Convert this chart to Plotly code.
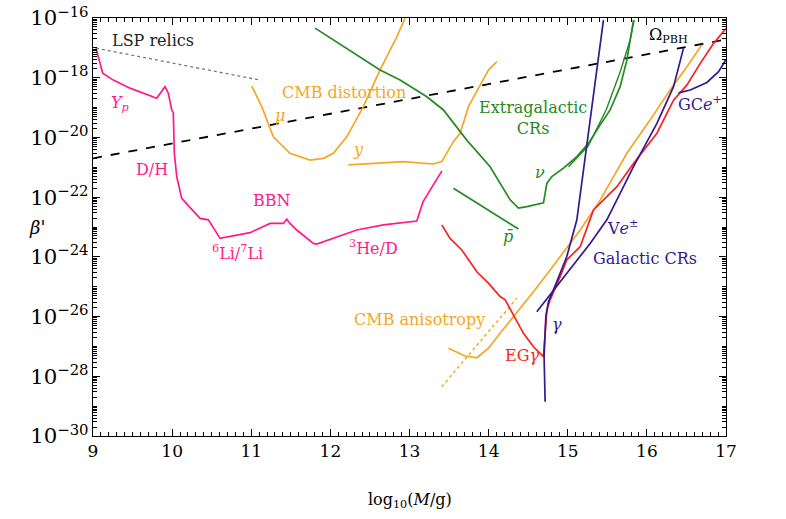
import numpy as np
import plotly.graph_objects as go

# log10(M/g) and log10(beta')
bbn_x = [9.038, 9.123, 9.257, 9.468, 9.805, 9.91, 9.952, 9.995, 10.015, 10.028, 10.058, 10.121,
         10.353, 10.458, 10.606, 10.732, 10.985, 11.238, 11.406, 11.449, 11.49, 11.575, 11.785,
         11.828, 12.334, 12.67, 13.092, 13.172, 13.41]
bbn_y = [-17.01, -17.85, -18.08, -18.35, -18.69, -18.30, -18.52, -19.08, -19.18, -20.53, -21.31, -22.04,
         -22.71, -22.76, -23.38, -23.32, -23.19, -22.88, -22.88, -22.74, -22.88, -23.10, -23.55,
         -23.57, -23.10, -22.93, -22.80, -22.15, -21.12]

lsp_x = [9.038, 11.11]
lsp_y = [-17.01, -18.08]

omega_x = [9.0, 17.0]
omega_y = [-20.70, -16.72]

mu_x = [11.006, 11.133, 11.279, 11.49, 11.743, 11.912, 12.038, 12.207, 12.417, 12.628, 12.839, 12.944]
mu_y = [-18.28, -18.97, -19.98, -20.53, -20.76, -20.70, -20.53, -19.98, -18.97, -17.74, -16.63, -16.01]

ydist_x = [12.228, 12.628, 12.923, 13.302, 13.408, 13.555, 13.64, 13.745, 13.893, 13.998, 14.104]
ydist_y = [-20.92, -20.85, -20.81, -20.89, -20.81, -20.14, -19.86, -18.97, -18.24, -17.74, -17.46]

egcr_x = [11.807, 12.628, 12.881, 13.219, 13.429, 13.724, 14.019, 14.272, 14.377, 14.483, 14.693,
          14.736, 14.799, 14.946, 15.115, 15.262, 15.41, 15.536, 15.662, 15.747, 15.831]
egcr_y = [-16.34, -17.74, -18.08, -18.64, -19.08, -20.09, -20.98, -22.09, -22.37, -22.32, -22.19,
          -21.54, -21.31, -21.03, -20.64, -20.20, -19.58, -19.08, -18.30, -17.41, -16.07]

nu_branch_x = [15.009, 15.258, 15.485, 15.662, 15.788, 15.839]
nu_branch_y = [-20.98, -20.29, -19.08, -17.81, -16.74, -16.07]

pbar_x = [13.555, 14.377]
pbar_y = [-21.70, -23.07]

gamma_x = [14.714, 14.701, 14.723, 14.756, 14.862, 14.988, 15.115, 15.241, 15.451]
gamma_y = [-28.85, -27.34, -26.00, -25.50, -24.83, -23.99, -22.76, -20.20, -16.07]

ve_x = [14.609, 14.904, 15.283, 15.494, 15.831, 16.127, 16.337, 16.463]
ve_y = [-25.84, -24.83, -23.55, -22.76, -20.98, -19.53, -18.30, -17.01]

gce_x = [16.4, 16.548, 16.759, 16.906, 17.0]
gce_y = [-18.51, -18.41, -18.16, -17.80, -17.39]

egg_x = [13.408, 13.513, 13.661, 13.851, 13.997, 14.145, 14.209, 14.314, 14.44, 14.567, 14.693,
         14.736, 14.778, 14.904, 14.988, 15.157, 15.325, 15.621, 15.831, 16.127, 16.337, 16.507,
         16.675, 16.843, 17.0]
egg_y = [-22.93, -23.38, -23.77, -24.50, -24.88, -25.33, -25.44, -25.95, -26.56, -27.01, -27.34,
         -25.78, -25.44, -24.66, -24.10, -23.66, -22.43, -21.65, -20.87, -19.86, -18.75, -18.24,
         -17.52, -16.85, -16.35]

cmba_x = [13.492, 13.703, 13.851, 13.998, 14.145, 14.335, 14.567, 14.778, 14.946, 15.157, 15.41,
          15.747, 16.04, 16.293, 16.506, 16.695]
cmba_y = [-27.06, -27.32, -27.38, -27.06, -26.56, -25.95, -25.17, -24.44, -23.83, -23.10, -22.10,
          -20.53, -19.42, -18.41, -17.63, -16.90]

cmba_dot_x = [13.408, 14.355]
cmba_dot_y = [-28.35, -25.39]

PINK = "#ff1a8c"
ORANGE = "#f5a623"
GREEN = "#228b22"
PURPLE = "#34198f"
RED = "#ff1f1f"
SERIF = "DejaVu Serif"

curves = [
    (bbn_x, bbn_y, PINK, "solid", 1.7),
    (lsp_x, lsp_y, "#777777", "dot", 1.3),
    (omega_x, omega_y, "black", "dash", 1.8),
    (mu_x, mu_y, ORANGE, "solid", 1.7),
    (ydist_x, ydist_y, ORANGE, "solid", 1.7),
    (egcr_x, egcr_y, GREEN, "solid", 1.7),
    (nu_branch_x, nu_branch_y, GREEN, "solid", 1.4),
    (pbar_x, pbar_y, GREEN, "solid", 1.7),
    (cmba_x, cmba_y, ORANGE, "solid", 1.7),
    (cmba_dot_x, cmba_dot_y, ORANGE, "dot", 1.5),
    (egg_x, egg_y, RED, "solid", 1.7),
    (gamma_x, gamma_y, PURPLE, "solid", 1.7),
    (ve_x, ve_y, PURPLE, "solid", 1.7),
    (gce_x, gce_y, PURPLE, "solid", 1.7),
]

fig = go.Figure()
for xs, ys, col, dash, w in curves:
    fig.add_trace(go.Scatter(x=xs, y=10.0 ** np.array(ys), mode="lines",
                             line=dict(color=col, width=w, dash=dash),
                             showlegend=False, hoverinfo="skip"))

labels = [
    (9.76, -16.77, "LSP relics", "#222222"),
    (9.34, -18.85, "<i>Y<sub>p</sub></i>", PINK),
    (9.75, -21.09, "D/H", PINK),
    (11.26, -22.10, "BBN", PINK),
    (10.83, -23.84, "<sup>6</sup>Li/<sup>7</sup>Li", PINK),
    (12.55, -23.70, "<sup>3</sup>He/D", PINK),
    (12.17, -18.48, "CMB distortion", ORANGE),
    (11.36, -19.28, "<i>μ</i>", ORANGE),
    (12.35, -20.42, "<i>y</i>", ORANGE),
    (14.56, -19.35, "Extragalactic<br>CRs", GREEN),
    (14.65, -21.16, "<i>ν</i>", GREEN),
    (14.25, -23.33, "<i>p\u0304</i>", GREEN),
    (16.27, -16.57, "Ω<sub>PBH</sub>", "black"),
    (16.67, -18.88, "GC<i>e</i><sup>+</sup>", PURPLE),
    (15.69, -23.03, "V<i>e</i><sup>±</sup>", PURPLE),
    (15.98, -24.04, "Galactic CRs", PURPLE),
    (14.87, -26.25, "<i>γ</i>", PURPLE),
    (14.42, -27.29, "EG<i>γ</i>", RED),
    (13.13, -26.11, "CMB anisotropy", ORANGE),
]
for lx, ly, txt, col in labels:
    fig.add_annotation(x=lx, y=ly, xref="x", yref="y", text=txt, showarrow=False,
                       font=dict(color=col, size=16, family=SERIF))

fig.add_annotation(x=0.5, y=-0.125, xref="paper", yref="paper", yanchor="top",
                   text="log<sub>10</sub>(<i>M</i>/g)", showarrow=False,
                   font=dict(size=16, family=SERIF, color="black"))
fig.add_annotation(x=-0.105, y=0.5, xref="paper", yref="paper",
                   text="<i>β</i>'", showarrow=False,
                   font=dict(size=18, family=SERIF, color="black"))

axis_common = dict(showline=True, linecolor="black", linewidth=1.1, mirror="ticks",
                   ticks="inside", tickcolor="black", showgrid=False, zeroline=False,
                   automargin=False,
                   tickfont=dict(size=17, family=SERIF, color="black"))

fig.update_xaxes(range=[9, 17], dtick=1, tick0=9, ticklen=7,
                 minor=dict(dtick=0.1, ticks="inside", ticklen=4, tickcolor="black"),
                 **axis_common)
fig.update_yaxes(type="log", range=[-30, -16], dtick=2, ticklen=7, exponentformat="power",
                 minor=dict(dtick="D1", ticks="inside", ticklen=4, tickcolor="black"),
                 **axis_common)

fig.update_layout(width=786, height=519, plot_bgcolor="white", paper_bgcolor="white",
                  margin=dict(l=93, r=60, t=18, b=83),
                  font=dict(family=SERIF))

fig.write_html("out.html", config={"displayModeBar": False},
               post_script="document.body.style.margin='0';")
